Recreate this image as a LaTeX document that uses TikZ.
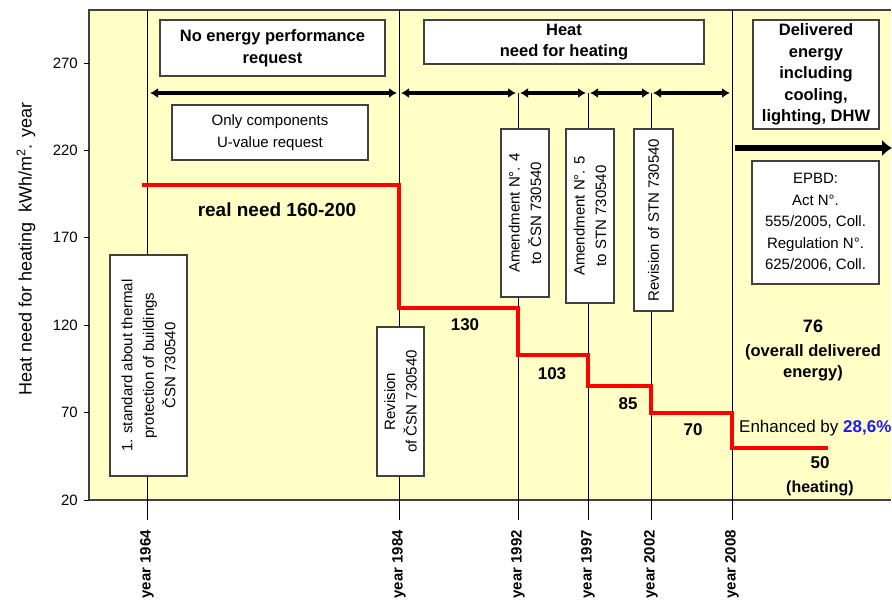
\documentclass[tikz,border=0pt]{standalone}
\usepackage{fontspec}
\setmainfont{Liberation Sans}
\usetikzlibrary{arrows.meta}
\definecolor{plotbg}{HTML}{FFFFC6}
\definecolor{boxline}{HTML}{404040}
\definecolor{enhblue}{HTML}{1A1AFF}
\begin{document}
\begin{tikzpicture}[x=1pt,y=-1pt,
  box/.style={draw=boxline, line width=1.3pt, fill=white, inner sep=0pt, align=center, font=\fontsize{15}{21.5}\selectfont},
  boldbox/.style={box, font=\fontsize{16.5}{21.5}\selectfont\bfseries},
  vbox/.style={box, rotate=90},
  yearline/.style={draw=black, line width=0.9pt},
  spanarrow/.style={{Latex[length=8pt,width=10pt]}-{Latex[length=8pt,width=10pt]}, line width=3.6pt},
  redline/.style={draw=red, line width=3.6pt},
  yearlbl/.style={rotate=90, anchor=east, font=\fontsize{15}{15}\selectfont\bfseries, inner sep=0pt},
  num/.style={font=\fontsize{17}{17}\selectfont\bfseries, inner sep=0pt},
  ticklbl/.style={anchor=east, font=\fontsize{15}{15}\selectfont, inner sep=0pt},
  plain/.style={font=\fontsize{15}{21.5}\selectfont, inner sep=0pt, align=center}
]
\useasboundingbox (0,0) rectangle (892,601);
% plot area
\fill[plotbg] (89,10) rectangle (891,500);
\draw[line width=1.3pt, draw=boxline] (891,10) -- (89,10) -- (89,500) -- (891,500);

% y axis ticks and labels
\foreach \v in {20,70,120,170,220,270}{
  \pgfmathsetmacro{\yy}{500-(\v-20)*1.748}
  \draw[line width=0.9pt] (84,\yy) -- (89,\yy);
  \node[ticklbl] (tick\v) at (78,\yy) {\v};
}
\node[rotate=90, font=\fontsize{18}{18}\selectfont, inner sep=0pt] (ylabel) at (26,249)
  {Heat need for heating\ \ kWh/m\textsuperscript{2}. year};

% year coordinates
\coordinate (top1964) at (147,10);
\coordinate (top1984) at (399,10);
\coordinate (top2008) at (732,10);
\coordinate (s1964) at (147,93);
\coordinate (s1984) at (399,93);
\coordinate (s1992) at (518,93);
\coordinate (s1997) at (588,93);
\coordinate (s2002) at (651,93);
\coordinate (s2008) at (732,93);
\coordinate (b1964) at (147,520);
\coordinate (b1984) at (399,520);
\coordinate (b1992) at (518,520);
\coordinate (b1997) at (588,520);
\coordinate (b2002) at (651,520);
\coordinate (b2008) at (732,520);

\draw[yearline] (top1964) -- (b1964);
\draw[yearline] (top1984) -- (b1984);
\draw[yearline] (top2008) -- (b2008);
\draw[yearline] (s1992) -- (b1992);
\draw[yearline] (s1997) -- (b1997);
\draw[yearline] (s2002) -- (b2002);

% year labels
\node[yearlbl] (y1964) at (147,530) {year 1964};
\node[yearlbl] (y1984) at (399,530) {year 1984};
\node[yearlbl] (y1992) at (518,530) {year 1992};
\node[yearlbl] (y1997) at (588,530) {year 1997};
\node[yearlbl] (y2002) at (651,530) {year 2002};
\node[yearlbl] (y2008) at (732,530) {year 2008};

% span arrows
\draw[spanarrow] ([xshift=3pt]s1964) -- ([xshift=-2pt]s1984);
\draw[spanarrow] ([xshift=2pt]s1984) -- ([xshift=-2pt]s1992);
\draw[spanarrow] ([xshift=2pt]s1992) -- ([xshift=-2pt]s1997);
\draw[spanarrow] ([xshift=2pt]s1997) -- ([xshift=-1pt]s2002);
\draw[spanarrow] ([xshift=2pt]s2002) -- ([xshift=-2pt]s2008);

% big arrow
\coordinate (bigA) at (735,148);
\coordinate (bigB) at (892,148);
\draw[line width=5.5pt, -{Latex[length=10pt,width=17pt]}] (bigA) -- (bigB);

% red step line
\draw[redline] (142,185) -- (399,185) -- (399,308) -- (518,308) -- (518,355)
  -- (588,355) -- (588,386) -- (651,386) -- (651,413) -- (732,413) -- (732,448) -- (828,448);

% top boxes
\node[boldbox, minimum width=225, minimum height=56] (noenergy) at (272.5,48)
  {No energy performance\\request};
\node[box, minimum width=196, minimum height=55] (onlycomp) at (270,132.5)
  {Only components\\U-value request};
\node[boldbox, minimum width=280, minimum height=44] (heatneed) at (564,42)
  {Heat\\need for heating};
\node[boldbox, minimum width=126, minimum height=109] (delivered) at (816,74.5)
  {Delivered\\energy\\including\\cooling,\\lighting, DHW};
\node[box, minimum width=127, minimum height=123] (epbd) at (815.5,222.5)
  {EPBD:\\Act N°.\\555/2005, Coll.\\Regulation N°.\\625/2006, Coll.};

% vertical boxes
\node[vbox, minimum width=221, minimum height=77] (std1964) at (148.5,365.5)
  {1. standard about thermal\\protection of buildings\\ČSN 730540};
\node[vbox, minimum width=149, minimum height=47] (rev1984) at (400.5,401.5)
  {Revision\\of ČSN 730540};
\node[vbox, minimum width=168, minimum height=48] (am4) at (525,213)
  {Amendment N°. 4\\to ČSN 730540};
\node[vbox, minimum width=174, minimum height=48] (am5) at (590,216)
  {Amendment N°. 5\\to STN 730540};
\node[vbox, minimum width=182, minimum height=39] (revstn) at (653.5,220)
  {Revision of STN 730540};

% labels
\node[font=\fontsize{19}{19}\selectfont\bfseries, inner sep=0pt] (realneed) at (277,210) {real need 160-200};
\node[num] (n130) at (465,325) {130};
\node[num] (n103) at (552,374) {103};
\node[num] (n85) at (628,404) {85};
\node[num] (n70) at (693,430) {70};
\node[num, font=\fontsize{18}{18}\selectfont\bfseries] (n76) at (813,326) {76};
\node[plain, font=\fontsize{16.5}{21}\selectfont\bfseries] (overall) at (813,362.5) {(overall delivered\\energy)};
\node[anchor=west, inner sep=0pt, font=\fontsize{17}{17}\selectfont] (enh) at (739,428)
  {Enhanced by \textcolor{enhblue}{\bfseries 28,6\%}};
\node[num] (n50) at (820,463) {50};
\node[plain, font=\fontsize{16}{16}\selectfont\bfseries] (heating) at (820,488) {(heating)};
\end{tikzpicture}
\end{document}
